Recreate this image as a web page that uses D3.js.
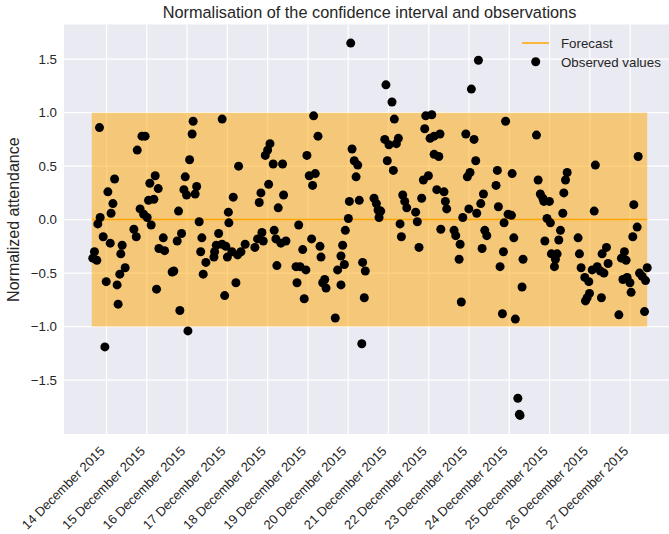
<!DOCTYPE html>
<html>
<head>
<meta charset="utf-8">
<script src="https://cdn.jsdelivr.net/npm/d3@7"></script>
<style>
  body { margin: 0; background: #ffffff; }
  text { font-family: "Liberation Sans", Arial, sans-serif; fill: #262626; }
</style>
</head>
<body>
<svg id="chart" width="669" height="534"></svg>
<script>
// Observations: hours after 14 December 2015 00:00 (UTC) and normalized attendance
const obsHours = [
  -8.2, -7.2, -5.8, -5.2, -4.2, -3.8, -2.0, -1.0, -0.2, 0.8, 2.2, 2.7, 3.8, 4.8, 6.3, 6.9, 7.9, 8.5, 9.3, 11.1,
  16.3, 17.7, 18.3, 20.0, 21.1, 22.1, 23.0, 24.2, 25.0, 25.8, 26.6, 28.2, 29.0, 29.8, 30.8, 31.2, 33.8, 34.6, 39.1, 40.1,
  42.1, 42.9, 43.7, 44.7, 46.1, 46.9, 47.7, 48.5, 49.5, 51.0, 51.6, 52.8, 53.7, 55.2, 56.1, 56.8, 57.6, 59.2, 64.0, 64.4,
  65.4, 66.8, 68.8, 68.9, 70.4, 72.0, 72.6, 72.9,
  71.1, 74.7, 75.5, 77.1, 78.1, 78.7, 80.1, 82.6, 88.4, 90.0, 91.0, 92.0, 92.6, 93.4, 94.6, 96.0, 96.6, 97.4, 99.3, 99.9,
  100.9, 101.5, 102.3, 103.9, 104.9, 105.5, 106.9, 112.9, 113.5, 114.5, 115.3, 116.9, 117.8, 118.8, 119.4, 120.8, 122.2, 122.8, 123.4, 124.4,
  126.0, 127.2, 127.8, 128.8, 130.0, 130.8, 136.3, 137.7, 139.7, 139.7, 140.7, 141.7, 142.3, 144.1, 144.7, 145.5, 146.3, 147.6, 148.7, 149.7,
  150.6, 152.1, 152.6, 153.6, 154.2,
  159.4, 160.8, 161.8, 162.4, 163.4, 165.8, 166.5, 167.3, 168.3, 170.1, 170.9, 171.5, 172.7, 173.9, 174.9, 175.7, 176.5, 177.7, 178.9, 184.2,
  185.2, 186.2, 187.8, 188.8, 189.6, 190.2, 191.8, 192.8, 193.8, 195.2, 195.2, 196.8, 198.0, 198.7, 199.2, 201.1, 201.9, 202.7, 207.1, 208.1,
  210.1, 210.7, 211.4, 212.3, 214.1, 215.0, 215.9, 216.6, 217.4, 219.0, 220.0, 220.6, 221.6, 223.0, 223.8, 224.6, 225.4, 226.6, 232.1, 232.9,
  233.5, 234.5, 235.9, 236.5, 236.9, 237.8,
  239.3, 241.3, 241.7, 242.7, 243.6, 245.1, 246.0, 246.4, 247.6, 248.2, 256.2, 257.2, 258.5, 260.0, 260.6, 261.2, 262.5, 263.9, 264.5, 265.1,
  266.9, 267.5, 268.5, 269.5, 270.5, 271.9, 272.5, 273.5, 274.5, 281.0, 281.8, 282.8, 285.0, 285.4, 286.4, 287.4, 287.8, 289.4, 290.6, 291.3,
  292.4, 294.3, 294.9, 295.3, 296.4, 297.9, 298.9, 305.3, 306.8, 307.7, 308.6, 309.6, 310.2, 311.9, 312.6, 313.6, 314.2, 316.2, 316.8, 317.6,
  319.2, 320.6, 321.2, 322.2
];
const obsValues = [
  -0.36, -0.30, -0.38, -0.04, 0.86, 0.02, -0.16, -1.19, -0.58, 0.26, -0.22, 0.06, 0.15, 0.38, -0.61, -0.79, -0.51, -0.32, -0.24, -0.45,
  -0.09, -0.16, 0.65, 0.10, 0.78, 0.05, 0.78, 0.02, 0.18, 0.34, -0.05, 0.19, 0.41, -0.65, 0.29, -0.27, -0.17, -0.29, -0.49, -0.48,
  -0.20, 0.08, -0.85, -0.13, 0.28, 0.40, 0.23, -1.04, 0.56, 0.80, 0.92, 0.24, 0.31, -0.02, -0.30, -0.17, -0.51, -0.40, -0.35, -0.30,
  -0.24, -0.13, -0.23, 0.94, -0.71, -0.35, 0.07, -0.03,
  -0.25, -0.30, 0.21, -0.59, -0.33, 0.50, -0.30, -0.23, -0.26, -0.18, 0.16, 0.25, -0.12, -0.20, 0.60, 0.65, 0.33, 0.71, 0.52, -0.10,
  -0.18, -0.43, 0.11, -0.22, 0.52, 0.23, -0.20, -0.44, -0.59, -0.05, -0.44, -0.28, -0.74, -0.47, 0.60, 0.41, -0.18, 0.32, 0.97, 0.43,
  0.78, -0.25, -0.35, -0.59, -0.56, -0.64, -0.92, -0.47, -0.61, -0.34, -0.24, -0.42, -0.10, 0.01, 0.17, 1.65, 0.66, 0.55, 0.40, 0.51,
  0.18, -1.16, -0.40, -0.73, -0.48,
  0.20, 0.15, 0.09, 0.02, 0.08, 0.75, 1.26, 0.55, 0.70, 1.10, 0.46, 0.94, 0.71, 0.76, -0.04, -0.16, 0.23, 0.17, 0.11, 0.07,
  -0.02, -0.26, 0.20, 0.37, 0.85, 0.97, 0.41, 0.76, 0.98, 0.78, 0.61, 0.28, 0.59, 0.80, -0.09, 0.26, 0.17, 0.10, -0.10, -0.15,
  -0.37, -0.23, -0.77, 0.02, 0.80, 0.40, 0.10, 0.44, 1.22, 0.75, 0.55, 0.06, 1.49, 0.15, -0.27, 0.24, -0.10, -0.15, 0.32, 0.46,
  0.12, -0.44, -0.88, -0.30, -0.03, 0.92,
  0.05, 0.04, 0.43, -0.17, -0.93, -1.67, -1.82, -1.83, -0.63, -0.37, 0.79, 0.37, 0.24, 0.20, 0.17, -0.20, 0.01, 0.17, -0.03, -0.32,
  -0.44, -0.37, -0.32, -0.19, -0.10, 0.06, 0.25, 0.37, 0.44, -0.17, -0.32, -0.45, -0.54, -0.76, -0.73, -0.58, -0.69, -0.47, 0.08, 0.51,
  -0.44, -0.48, -0.73, -0.32, -0.50, -0.26, -0.41, -0.89, -0.36, -0.56, -0.30, -0.38, -0.54, -0.59, -0.68, -0.16, 0.14, -0.07, 0.59, -0.50,
  -0.53, -0.86, -0.57, -0.45
];

// Forecast and its normalized confidence interval
const forecastHours = [-8.8, 322.2];
const forecastValues = [0, 0];
const lowerBound = [-1, -1];
const upperBound = [1, 1];

// Axis ticks
const yTicks = [-1.5, -1.0, -0.5, 0.0, 0.5, 1.0, 1.5];
const tickDays = [14, 15, 16, 17, 18, 19, 20, 21, 22, 23, 24, 25, 26, 27];

const title = "Normalisation of the confidence interval and observations";
const yLabel = "Normalized attendance";
const legendLabels = ["Forecast", "Observed values"];

const origin = Date.UTC(2015, 11, 14);
const toDate = h => new Date(origin + h * 3600 * 1000);

const width = 669, height = 534;
const margin = { top: 24.5, right: -6, bottom: 100, left: 64 };
const plotW = width - margin.left - margin.right;
const plotH = height - margin.top - margin.bottom;

const svg = d3.select("#chart");
const g = svg.append("g").attr("transform", `translate(${margin.left},${margin.top})`);

// Domains padded by 5% of the data span, on both axes
const allHours = obsHours.concat(forecastHours);
const hExt = d3.extent(allHours);
const hPad = (hExt[1] - hExt[0]) * 0.05;
const x = d3.scaleUtc()
  .domain([toDate(hExt[0] - hPad), toDate(hExt[1] + hPad)])
  .range([0, plotW]);

const vExt = d3.extent(obsValues.concat(lowerBound, upperBound));
const vPad = (vExt[1] - vExt[0]) * 0.05;
const y = d3.scaleLinear()
  .domain([vExt[0] - vPad, vExt[1] + vPad])
  .range([plotH, 0]);

svg.append("defs").append("clipPath").attr("id", "plotClip")
  .append("rect").attr("width", plotW).attr("height", plotH);

// Background
g.append("rect").attr("width", plotW).attr("height", plotH).attr("fill", "#EAEAF2");

const tickDates = tickDays.map(d => new Date(Date.UTC(2015, 11, d)));

// Grid
const grid = g.append("g").attr("clip-path", "url(#plotClip)");
grid.selectAll("line.vg").data(tickDates).join("line")
  .attr("x1", d => x(d)).attr("x2", d => x(d))
  .attr("y1", 0).attr("y2", plotH)
  .attr("stroke", "#ffffff").attr("stroke-width", 1.2);
grid.selectAll("line.hg").data(yTicks).join("line")
  .attr("x1", 0).attr("x2", plotW)
  .attr("y1", d => y(d)).attr("y2", d => y(d))
  .attr("stroke", "#ffffff").attr("stroke-width", 1.2);

// Confidence interval band
const bandData = forecastHours.map((h, i) => ({ t: toDate(h), lo: lowerBound[i], hi: upperBound[i] }));
g.append("path").datum(bandData)
  .attr("d", d3.area().x(d => x(d.t)).y0(d => y(d.lo)).y1(d => y(d.hi)))
  .attr("fill", "#FFA500").attr("fill-opacity", 0.5);

// Forecast line
const fcData = forecastHours.map((h, i) => ({ t: toDate(h), v: forecastValues[i] }));
g.append("path").datum(fcData)
  .attr("d", d3.line().x(d => x(d.t)).y(d => y(d.v)))
  .attr("fill", "none").attr("stroke", "#FFA500").attr("stroke-width", 1.5);

// Observations
g.append("g").selectAll("circle").data(obsHours.map((h, i) => ({ t: toDate(h), v: obsValues[i] })))
  .join("circle")
  .attr("cx", d => x(d.t)).attr("cy", d => y(d.v))
  .attr("r", 4.5).attr("fill", "#000000");

// Y axis labels
const fmt = d3.format(".1f");
g.append("g").selectAll("text").data(yTicks).join("text")
  .attr("x", -7).attr("y", d => y(d)).attr("dy", "0.35em")
  .attr("text-anchor", "end").attr("font-size", 13.3)
  .text(d => fmt(d));

// X axis labels (rotated)
const dateFmt = d3.utcFormat("%-d %B %Y");
g.append("g").selectAll("text").data(tickDates).join("text")
  .attr("text-anchor", "end").attr("font-size", 13)
  .attr("transform", d => `translate(${x(d) - 1},${plotH + 18}) rotate(-45)`)
  .text(d => dateFmt(d));

// Title and axis label
svg.append("text")
  .attr("x", margin.left + plotW / 2).attr("y", 18)
  .attr("text-anchor", "middle").attr("font-size", 16.3)
  .text(title);

svg.append("text")
  .attr("transform", `translate(19,${margin.top + y(0)}) rotate(-90)`)
  .attr("text-anchor", "middle").attr("font-size", 16)
  .text(yLabel);

// Legend
const leg = svg.append("g");
leg.append("line").attr("x1", 522).attr("x2", 549).attr("y1", 43).attr("y2", 43)
  .attr("stroke", "#FFA500").attr("stroke-width", 1.5);
leg.append("circle").attr("cx", 535.7).attr("cy", 61.7).attr("r", 4.5).attr("fill", "#000000");
leg.selectAll("text").data(legendLabels).join("text")
  .attr("x", 561).attr("y", (d, i) => 43 + i * 19).attr("dy", "0.35em")
  .attr("font-size", 13.3)
  .text(d => d);
</script>
</body>
</html>
